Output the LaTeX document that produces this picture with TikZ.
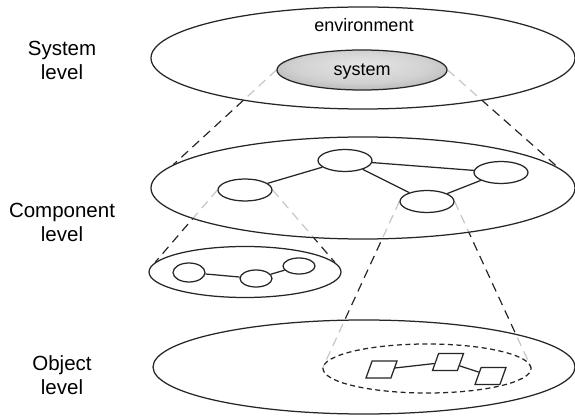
\documentclass[tikz,border=0pt]{standalone}
\usepackage{fontspec}
\setmainfont{Liberation Sans}
\usetikzlibrary{shapes.geometric}

% projection rays go underneath the translucent level planes
\pgfdeclarelayer{rays}
\pgfsetlayers{rays,main}

% soft grey fill of the system ellipse, lighter towards the top middle
\pgfdeclareradialshading{syshade}{\pgfpoint{0bp}{8bp}}{%
  color(0bp)=(black!10); color(20bp)=(black!18);
  color(40bp)=(black!38); color(50bp)=(black!58)}

\begin{document}
\begin{tikzpicture}[x=1pt,y=-1pt,
  ink/.style={draw=black!85, line width=1.25pt},
  plane/.style={ellipse, ink, fill=white, fill opacity=0.74, inner sep=0,
    minimum width=424pt, minimum height=102pt},
  part/.style={ellipse, ink, inner sep=0, minimum width=54pt, minimum height=22pt},
  subpart/.style={ellipse, ink, inner sep=0, minimum width=32pt, minimum height=17pt},
  objbox/.style={trapezium, trapezium left angle=72, trapezium right angle=108,
    trapezium stretches=true, ink, inner sep=1pt, minimum width=31pt, minimum height=17pt},
  link/.style={draw=black!85, line width=1.25pt},
  ray/.style={draw=black!85, line width=1.2pt, dash pattern=on 9pt off 6pt},
  levellabel/.style={align=center, inner sep=0, font=\fontsize{20.5}{24.5}\selectfont},
  intext/.style={inner sep=0, anchor=base, font=\fontsize{18}{21}\selectfont}]

\useasboundingbox (0,0) rectangle (575,419);

% level captions
\node[levellabel] (lsys)  at (62,60.5)  {System\\level};
\node[levellabel] (lcomp) at (62,222.5) {Component\\level};
\node[levellabel] (lobj)  at (62,375)   {Object\\level};

% system level
\node[plane] (env) at (363,58) {};
\node[intext] (envtext) at (364,31.5) {environment};
\node[ellipse, ink, shading=syshade, inner sep=0, minimum width=170pt,
      minimum height=40pt] (sys) at (362,70) {};
\node[intext] (systext) at (362,76) {system};

% component level
\node[plane] (comp) at (363,188) {};
\node[part] (ca) at (245,190) {};
\node[part] (cb) at (345,160.5) {};
\node[part] (cc) at (427,201.5) {};
\node[part] (cd) at (501,172.5) {};
\draw[link] (ca) -- (cb);
\draw[link] (cb) -- (cd);
\draw[link] (cb) -- (cc);
\draw[link] (cc) -- (cd);

% refined component
\node[plane, minimum width=192pt, minimum height=51pt] (sub) at (245,272) {};
\node[subpart, minimum height=19pt] (sa) at (189,272.5) {};
\node[subpart] (sb) at (256,278.5) {};
\node[subpart, minimum height=16pt] (sc) at (299,266) {};
\draw[link] (sa) -- (sb);
\draw[link] (sb) -- (sc);

% object level
\node[plane, minimum width=422pt, minimum height=94pt] (obj) at (364,367) {};
\node[ellipse, ink, dash pattern=on 5pt off 3.5pt, inner sep=0,
      minimum width=208pt, minimum height=49pt] (ring) at (427,368.5) {};
\node[objbox] (oa) at (381.5,369.5) {};
\node[objbox] (ob) at (448,362) {};
\node[objbox] (oc) at (490.5,376) {};
\draw[link] (oa) -- (ob);
\draw[link] (ob) -- (oc);

% projection rays between the levels
\begin{pgfonlayer}{rays}
  \draw[ray] (sys.west) -- (comp.173.4);
  \draw[ray] (sys.east) -- (comp.6.6);
  \draw[ray] (ca.west) -- (sub.174.3);
  \draw[ray] (ca.east) -- (sub.6.7);
  \draw[ray] (cc.west) -- (ring.west);
  \draw[ray] (cc.east) -- (ring.east);
\end{pgfonlayer}
\end{tikzpicture}
\end{document}
